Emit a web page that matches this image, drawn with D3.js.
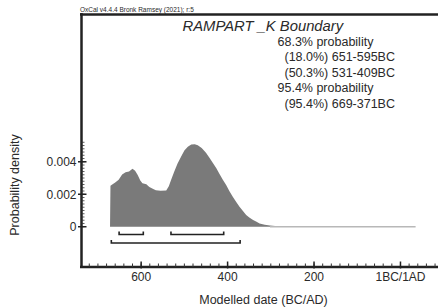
<!DOCTYPE html>
<html>
<head>
<meta charset="utf-8">
<script src="https://cdn.jsdelivr.net/npm/d3@7"></script>
<style>
  body { margin: 0; background: #fff; }
  text { font-family: "Liberation Sans", Arial, sans-serif; fill: #2a2a2a; }
</style>
</head>
<body>
<div class="chart"></div>
<script>
// modelled date (years BC) and probability density
var years   = [672, 671, 666, 660, 652, 644, 636, 628, 620, 614, 608, 602, 597, 588, 581, 572, 566, 555, 542, 536, 531, 524, 516, 508, 500, 492, 484, 476, 469, 460, 450, 442, 434, 426, 419, 411, 403, 396, 388, 380, 372, 364, 357, 349, 341, 333, 326, 314, 302, 290, 270, 240, 200, 150, 100, 50, 0, -35];
var density = [0, 0.00252, 0.00262, 0.00272, 0.0029, 0.00322, 0.00335, 0.0034, 0.00357, 0.00345, 0.00318, 0.00285, 0.00268, 0.00262, 0.00245, 0.00232, 0.00224, 0.00222, 0.00223, 0.0025, 0.00286, 0.00335, 0.00388, 0.0043, 0.00469, 0.00492, 0.00506, 0.00508, 0.00502, 0.00485, 0.00455, 0.00425, 0.00392, 0.0036, 0.00327, 0.0029, 0.00255, 0.0022, 0.00184, 0.00152, 0.00122, 0.00095, 0.00072, 0.00055, 0.00041, 0.0003, 0.0002, 0.00012, 0.00007, 0.00004, 0.00003, 0.00002, 0.00002, 0.00001, 0.00001, 0.00001, 0.00001, 0];

var ranges68 = [[651, 595], [531, 409]];
var ranges95 = [[669, 371]];
var infoLines = ["68.3% probability", "(18.0%) 651-595BC", "(50.3%) 531-409BC", "95.4% probability", "(95.4%) 669-371BC"];
var xTicks = [600, 400, 200, 0];
var xTickLabels = ["600", "400", "200", "1BC/1AD"];
var yTicks = [0, 0.002, 0.004];
var yTickLabels = ["0", "0.002", "0.004"];

var width = 438, height = 308;

function drawGraph() {
    var svg = d3.select('.chart')
      .append('svg')
        .attr('width', width)
        .attr('height', height);

    var x = d3.scaleLinear().domain([738, -100]).range([81.5, 443.7]);
    var y = d3.scaleLinear().domain([-0.00248, 0.01307]).range([267, 14.5]);

    var data = years.map(function(yr, i) { return {year: yr, p: density[i]}; });

    // distribution
    var area = d3.area()
        .x(function(d) { return x(d.year); })
        .y0(y(0))
        .y1(function(d) { return y(d.p); });

    svg.append('path')
        .datum(data.filter(function(d) { return d.year >= 290; }))
        .attr('d', area)
        .attr('fill', '#7a7a7a');

    // thin tail
    var tail = data.filter(function(d) { return d.year <= 302; });
    svg.append('line')
        .attr('x1', x(tail[0].year)).attr('x2', x(tail[tail.length - 1].year))
        .attr('y1', y(0)).attr('y2', y(0))
        .attr('stroke', '#b8b8b8')
        .attr('stroke-width', 1.5);

    // range brackets
    function bracket(r, yy) {
        return 'M' + x(r[0]) + ',' + (yy - 3) + 'V' + yy + 'H' + x(r[1]) + 'V' + (yy - 3);
    }
    svg.selectAll('.b68').data(ranges68).enter().append('path')
        .attr('d', function(d) { return bracket(d, 234.5); })
        .attr('fill', 'none').attr('stroke', '#222').attr('stroke-width', 1.6);
    svg.selectAll('.b95').data(ranges95).enter().append('path')
        .attr('d', function(d) { return bracket(d, 243); })
        .attr('fill', 'none').attr('stroke', '#222').attr('stroke-width', 1.6);

    // frame
    svg.append('line').attr('x1', 80).attr('x2', width).attr('y1', 14.5).attr('y2', 14.5)
        .attr('stroke', '#222').attr('stroke-width', 2.5);
    svg.append('line').attr('x1', 81.5).attr('x2', 81.5).attr('y1', 13).attr('y2', 268)
        .attr('stroke', '#222').attr('stroke-width', 2.5);
    svg.append('line').attr('x1', 80).attr('x2', width).attr('y1', 267).attr('y2', 267)
        .attr('stroke', '#222').attr('stroke-width', 2.5);

    // x ticks
    var minorX = d3.range(720, -100, -20);
    svg.selectAll('.mx').data(minorX).enter().append('line')
        .attr('x1', function(d) { return x(d); }).attr('x2', function(d) { return x(d); })
        .attr('y1', 267).attr('y2', 263.5)
        .attr('stroke', '#333').attr('stroke-width', 1);
    svg.selectAll('.Mx').data(xTicks).enter().append('line')
        .attr('x1', function(d) { return x(d); }).attr('x2', function(d) { return x(d); })
        .attr('y1', 268.5).attr('y2', 261.5)
        .attr('stroke', '#222').attr('stroke-width', 1.5);
    svg.selectAll('.xl').data(xTicks).enter().append('text')
        .attr('x', function(d) { return x(d); })
        .attr('y', 281)
        .attr('text-anchor', 'middle')
        .style('font-size', '12px')
        .text(function(d, i) { return xTickLabels[i]; });

    // y ticks
    var minorY = d3.range(0, 0.00521, 0.0002);
    svg.selectAll('.my').data(minorY).enter().append('line')
        .attr('x1', 81.5).attr('x2', 84.5)
        .attr('y1', function(d) { return y(d); }).attr('y2', function(d) { return y(d); })
        .attr('stroke', '#333').attr('stroke-width', 0.8);
    svg.selectAll('.My').data(yTicks).enter().append('line')
        .attr('x1', 78).attr('x2', 86.5)
        .attr('y1', function(d) { return y(d); }).attr('y2', function(d) { return y(d); })
        .attr('stroke', '#222').attr('stroke-width', 1.5);
    svg.selectAll('.yl').data(yTicks).enter().append('text')
        .attr('x', 76.5)
        .attr('y', function(d) { return y(d) + 4.3; })
        .attr('text-anchor', 'end')
        .style('font-size', '12px')
        .text(function(d, i) { return yTickLabels[i]; });

    // axis titles
    svg.append('text')
        .attr('x', 263.5).attr('y', 304)
        .attr('text-anchor', 'middle')
        .style('font-size', '12.5px')
        .text('Modelled date (BC/AD)');
    svg.append('text')
        .attr('transform', 'translate(19,185) rotate(-90)')
        .attr('text-anchor', 'middle')
        .style('font-size', '12.5px')
        .text('Probability density');

    // header and info
    svg.append('text')
        .attr('x', 80).attr('y', 11.5)
        .style('font-size', '6.5px')
        .text('OxCal v4.4.4 Bronk Ramsey (2021); r:5');
    svg.append('text')
        .attr('x', 182.5).attr('y', 30.5)
        .style('font-size', '14.8px')
        .style('font-style', 'italic')
        .text('RAMPART _K Boundary');
    svg.selectAll('.info').data(infoLines).enter().append('text')
        .attr('x', function(d) { return d.charAt(0) === '(' ? 284.5 : 277.5; })
        .attr('y', function(d, i) { return 45.5 + i * 15.5; })
        .style('font-size', '12.5px')
        .text(function(d) { return d; });
}

drawGraph();
</script>
</body>
</html>
